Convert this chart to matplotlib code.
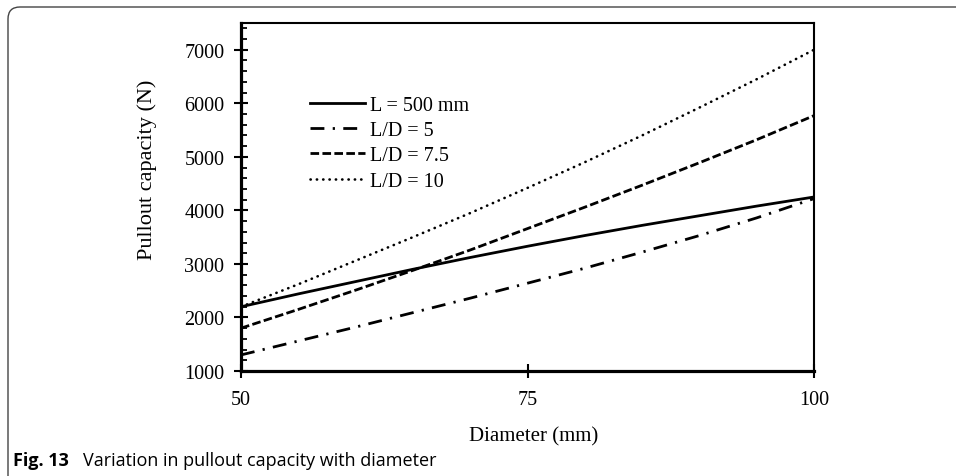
import matplotlib
matplotlib.use("Agg")
import matplotlib.pyplot as plt
from matplotlib.patches import FancyBboxPatch
from matplotlib.ticker import MultipleLocator

# diameters (mm) and pullout capacity (N)
diameter = [50, 55, 60, 65, 70, 75, 80, 85, 90, 95, 100]
cap_L500 = [2200, 2440, 2670, 2900, 3120, 3330, 3530, 3720, 3900, 4080, 4250]
cap_LD5 = [1300, 1560, 1820, 2090, 2360, 2640, 2920, 3220, 3530, 3860, 4220]
cap_LD75 = [1800, 2150, 2510, 2880, 3260, 3660, 4060, 4470, 4890, 5320, 5770]
cap_LD10 = [2200, 2620, 3060, 3500, 3950, 4420, 4900, 5400, 5920, 6450, 7000]

labels = ["L = 500 mm", "L/D = 5", "L/D = 7.5", "L/D = 10"]
x_ticks = [50, 75, 100]
y_ticks = [1000, 2000, 3000, 4000, 5000, 6000, 7000]


def main():
    W, H = 956, 477
    fig = plt.figure(figsize=(W / 100, H / 100), dpi=100)
    plt.rcParams["font.family"] = "Liberation Serif"

    # axes placed in pixels
    left, right, top, bottom = 241, 814, 24, 372
    ax = fig.add_axes([left / W, 1 - bottom / H, (right - left) / W, (bottom - top) / H])

    ax.plot(diameter, cap_L500, color="black", lw=2.0, label=labels[0])
    ax.plot(diameter, cap_LD5, color="black", lw=2.0, dashes=(5, 3, 0.8, 3), label=labels[1])
    ax.plot(diameter, cap_LD75, color="black", lw=2.0, dashes=(3.1, 1.2), label=labels[2])
    ax.plot(diameter, cap_LD10, color="black", lw=1.9, dashes=(0.1, 2.3),
            dash_capstyle="round", label=labels[3])

    ax.set_xlim(50, 100)
    ax.set_ylim(1000, 7500)
    ax.set_xticks(x_ticks)
    ax.set_yticks(y_ticks)
    ax.yaxis.set_minor_locator(MultipleLocator(200))

    ax.tick_params(axis="both", which="major", direction="inout", length=10, width=1.5,
                   labelsize=14.5, pad=7)
    ax.tick_params(axis="y", which="minor", direction="in", length=4, width=1.3)
    ax.tick_params(axis="x", pad=9)

    for side in ["left", "bottom"]:
        ax.spines[side].set_linewidth(2.3)
    for side in ["top", "right"]:
        ax.spines[side].set_linewidth(1.5)

    ax.set_xlabel("Diameter (mm)", fontsize=15)
    ax.xaxis.set_label_coords(0.51, -0.16)
    ax.set_ylabel("Pullout capacity (N)", fontsize=16)
    ax.yaxis.set_label_coords(-0.147, 0.58)

    ax.legend(loc="upper left", bbox_to_anchor=(0.12, 0.79), frameon=False, fontsize=14.5,
              handlelength=2.75, handletextpad=0.25, labelspacing=0.3, borderpad=0,
              borderaxespad=0)

    # rounded frame around the figure panel
    frame = FancyBboxPatch((0.08, -1.0), 20, 5.69, boxstyle="round,pad=0,rounding_size=0.12",
                           transform=fig.dpi_scale_trans, facecolor="none",
                           edgecolor="#444444", lw=1.0)
    fig.patches.append(frame)

    # caption
    fig.text(13 / W, 1 - 466 / H, "Fig. 13", fontsize=13, fontweight="bold",
             family="Open Sans", va="baseline")
    fig.text(83 / W, 1 - 466 / H, "Variation in pullout capacity with diameter", fontsize=13,
             family="Open Sans", va="baseline")

    fig.savefig("out.png", dpi=100)


if __name__ == "__main__":
    main()
